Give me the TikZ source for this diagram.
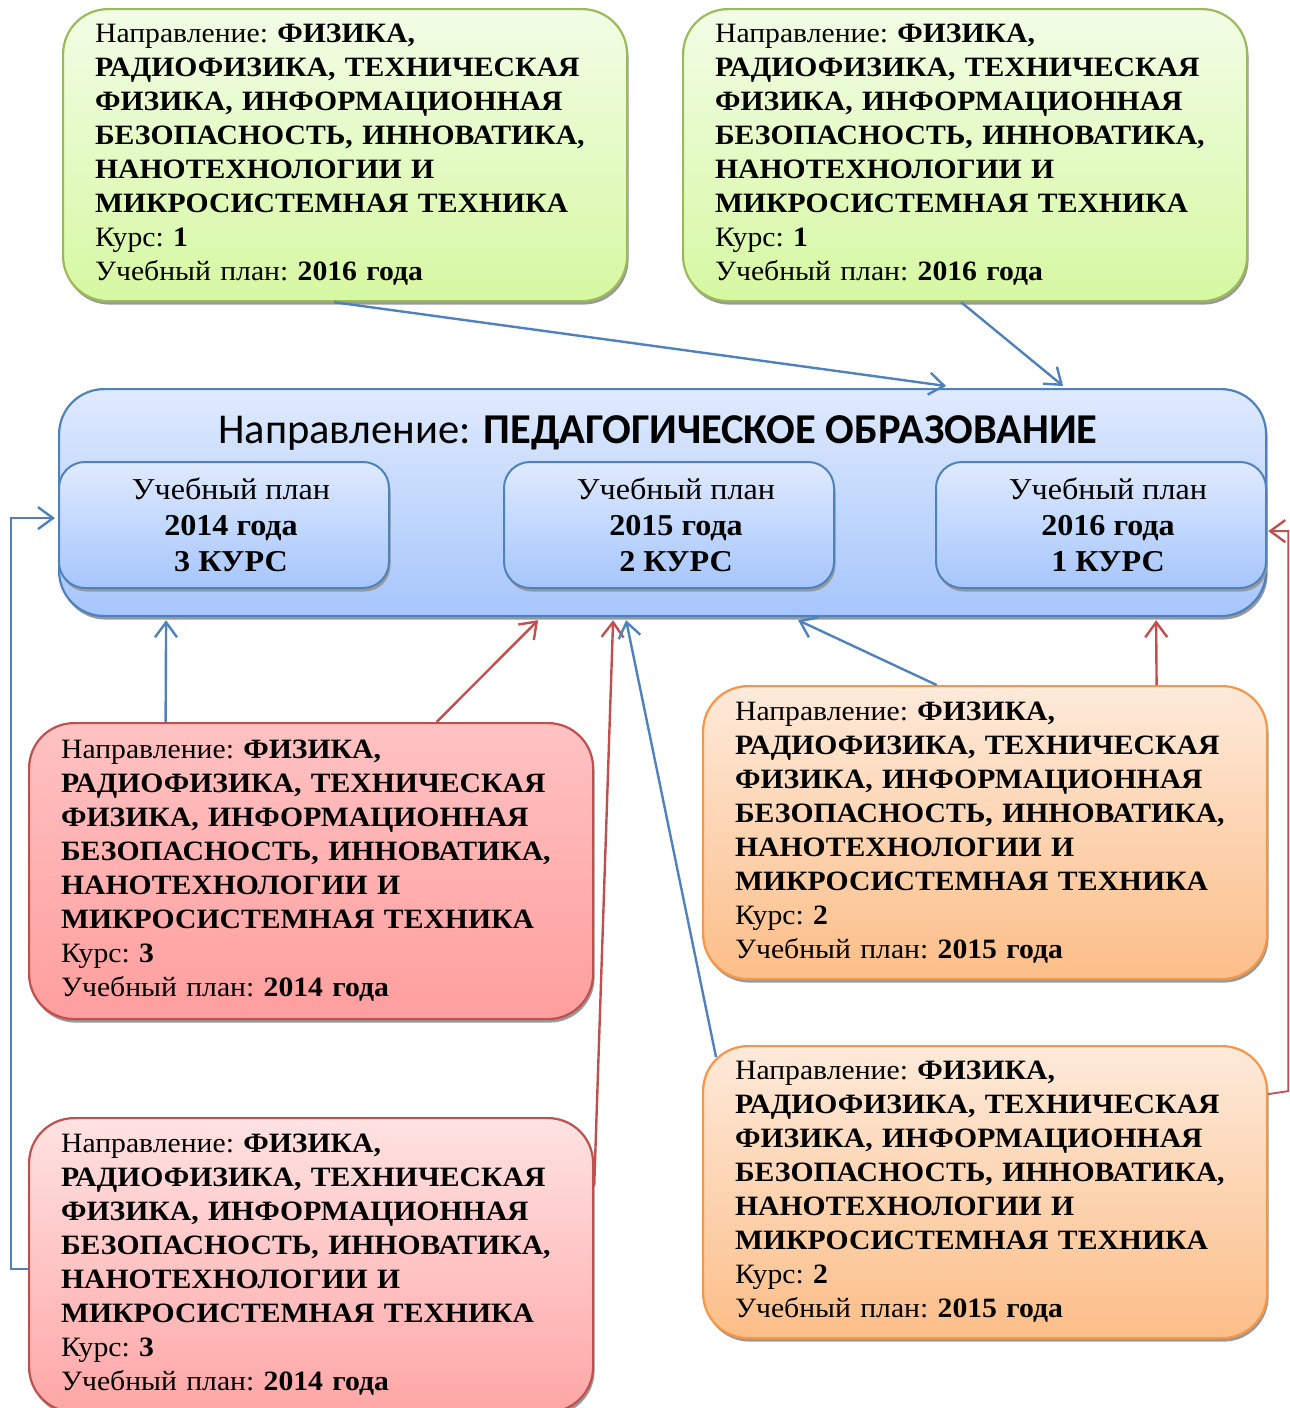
\documentclass[tikz,border=0pt]{standalone}
\usepackage{fontspec}
\setmainfont{Liberation Serif}[FakeStretch=1.06]
\newfontfamily\titlefont{Carlito}
\usetikzlibrary{arrows.meta,shadows,calc}

\definecolor{blueline}{HTML}{4F81BD}
\definecolor{redline}{HTML}{C0504D}
\definecolor{greenline}{HTML}{9BBB59}
\definecolor{orangeline}{HTML}{F79646}
\definecolor{greentop}{HTML}{F2FDE6}
\definecolor{greenbot}{HTML}{D6F8A2}
\definecolor{redtop}{HTML}{FFC2C2}
\definecolor{redbot}{HTML}{FF9E9E}
\definecolor{paletop}{HTML}{FFE2E2}
\definecolor{palebot}{HTML}{FFA6A6}
\definecolor{orangetop}{HTML}{FDEADA}
\definecolor{orangebot}{HTML}{FCBE88}
\definecolor{bluetop}{HTML}{DFEAFD}
\definecolor{bluebot}{HTML}{A6C6FC}

% text of a source programme box: course and year of the plan
\newcommand\progtext[2]{Направление: \textbf{ФИЗИКА,}\\
\textbf{РАДИОФИЗИКА, ТЕХНИЧЕСКАЯ}\\
\textbf{ФИЗИКА, ИНФОРМАЦИОННАЯ}\\
\textbf{БЕЗОПАСНОСТЬ, ИННОВАТИКА,}\\
\textbf{НАНОТЕХНОЛОГИИ И}\\
\textbf{МИКРОСИСТЕМНАЯ ТЕХНИКА}\\
Курс: \textbf{#1}\\
Учебный план: \textbf{#2 года}}

\tikzset{
  boxshadow/.style={drop shadow={shadow xshift=1.5pt,shadow yshift=-3.5pt,fill=black!40,opacity=1}},
  progbox/.style={rectangle,rounded corners=45pt,line width=2.2pt,anchor=north west,
    text width=500pt,inner xsep=32pt,inner ysep=0pt,minimum height=292pt,align=left,
    font=\frenchspacing\fontsize{28}{34}\selectfont,boxshadow},
  greenbox/.style={progbox,draw=greenline,top color=greentop,bottom color=greenbot},
  redbox/.style={progbox,draw=redline,top color=redtop,bottom color=redbot},
  paleredbox/.style={progbox,draw=redline,top color=paletop,bottom color=palebot},
  orangebox/.style={progbox,draw=orangeline,top color=orangetop,bottom color=orangebot},
  planbox/.style={rectangle,rounded corners=26pt,line width=2pt,draw=blueline,anchor=north west,
    top color=bluetop,bottom color=bluebot,minimum width=330pt,minimum height=126pt,
    align=center,font=\fontsize{30.3}{36}\selectfont,boxshadow},
  conn/.style={line width=2.4pt,-{Straight Barb[length=15pt,width=22pt,line width=2.4pt]}},
  bconn/.style={conn,draw=blueline},
  rconn/.style={conn,draw=redline},
}

\begin{document}
\begin{tikzpicture}[x=1pt,y=-1pt]
\useasboundingbox (0,0) rectangle (1290,1408);

% common programme
\node[rectangle,rounded corners=45pt,line width=2.2pt,draw=blueline,anchor=north west,
  top color=bluetop,bottom color=bluebot,minimum width=1207pt,minimum height=227pt,
  boxshadow] (main) at (58,388) {};
\node[font=\titlefont\fontsize{42.5}{48}\selectfont] (title) at (658,433)
  {Направление: \textbf{ПЕДАГОГИЧЕСКОЕ ОБРАЗОВАНИЕ}};
\node[planbox] (p14) at (58,461) {\hspace*{14pt}Учебный план\\\hspace*{14pt}\textbf{2014 года}\\\hspace*{14pt}\textbf{3 КУРС}};
\node[planbox] (p15) at (503,461) {\hspace*{14pt}Учебный план\\\hspace*{14pt}\textbf{2015 года}\\\hspace*{14pt}\textbf{2 КУРС}};
\node[planbox] (p16) at (935,461) {\hspace*{14pt}Учебный план\\\hspace*{14pt}\textbf{2016 года}\\\hspace*{14pt}\textbf{1 КУРС}};

% source programmes
\node[greenbox] (g1) at (62,8) {\progtext{1}{2016}};
\node[greenbox] (g2) at (682,8) {\progtext{1}{2016}};
\node[redbox,minimum height=296pt] (r1) at (28,722) {\progtext{3}{2014}};
\node[paleredbox,minimum height=294pt] (r2) at (28,1117) {\progtext{3}{2014}};
\node[orangebox,minimum height=293pt] (o1) at (702,685) {\progtext{2}{2015}};
\node[orangebox,minimum height=292pt] (o2) at (702,1045) {\progtext{2}{2015}};

% connectors into the common programme
\draw[bconn] ([xshift=-11pt]g1.south) -- ([xshift=283.5pt,yshift=2pt]main.north);
\draw[bconn] ([xshift=-4pt]g2.south) -- ([xshift=400.5pt,yshift=2pt]main.north);
\draw[bconn] ([xshift=-145.5pt]r1.north) -- ([xshift=-496.5pt,yshift=-3pt]main.south);
\draw[rconn] ([xshift=125.5pt]r1.north) -- ([xshift=-124.5pt,yshift=-3pt]main.south);
\draw[rconn] ([yshift=79pt]r2.east) -- ([xshift=-49.5pt,yshift=-3pt]main.south);
\draw[bconn] ([xshift=14pt,yshift=-12pt]o2.north west) -- ([xshift=-36.5pt,yshift=-3pt]main.south);
\draw[bconn] ([xshift=-48.5pt]o1.north) -- ([xshift=135.5pt,yshift=-3pt]main.south);
\draw[rconn] ([xshift=171.5pt]o1.north) -- ([xshift=493.5pt,yshift=-3pt]main.south);
\draw[bconn,line width=1.8pt] ([yshift=-4pt]r2.west) -- ++(-17,0)
  |- ([xshift=-3pt,yshift=-15.5pt]main.west);
\draw[rconn,line width=1.8pt] ([yshift=98pt]o2.east) -- ++(20,-3)
  |- ([xshift=1pt,yshift=-28.5pt]main.east);
\end{tikzpicture}
\end{document}
